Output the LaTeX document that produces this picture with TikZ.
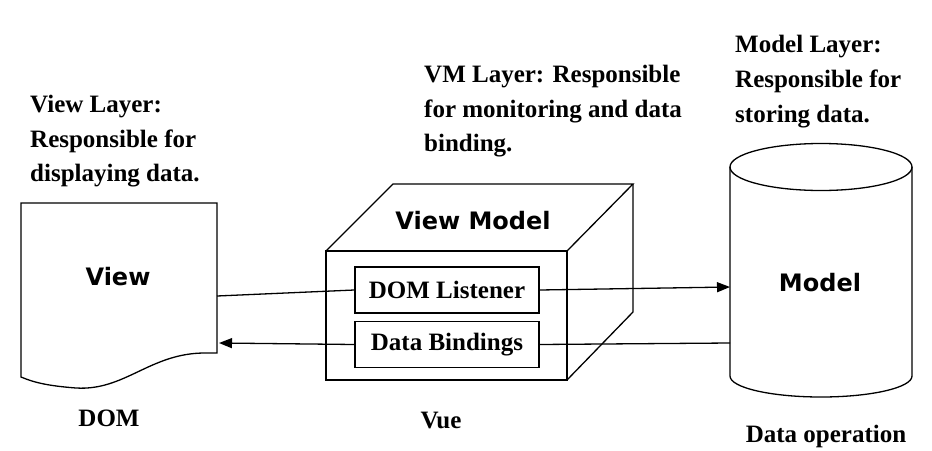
\documentclass[tikz,border=0pt]{standalone}
\usepackage{fontspec}
\setmainfont{Liberation Serif}
\newfontfamily\labelsans{DejaVu Sans}
\usetikzlibrary{arrows.meta}
\tikzset{
  shapeline/.style={draw=black, line width=1.3pt, line join=miter},
  conn/.style={draw=black, line width=1.3pt},
  arr/.style={conn, -{Triangle[length=13pt,width=10pt]}},
  serifbold/.style={font=\fontsize{25}{35}\selectfont\bfseries, inner sep=0pt},
  sansbold/.style={font=\labelsans\fontsize{24}{28}\selectfont\bfseries, inner sep=0pt},
  innerbox/.style={draw=black, line width=1.3pt, minimum width=184pt, minimum height=46pt, inner sep=0pt, font=\fontsize{25}{30}\selectfont\bfseries}
}
\begin{document}
\begin{tikzpicture}[x=1pt,y=-1pt]
\useasboundingbox[fill=white] (0,0) rectangle (932,450);

% ---------- View (document shape) ----------
\draw[shapeline] (21,203) -- (217,203) -- (217,353) -- (205,353)
  .. controls (150,353) and (125,391) .. (76,388)
  .. controls (50,386) and (35,383) .. (21,377) -- cycle;
\node[sansbold] (viewlbl) at (118,277) {View};
\node[serifbold] (dom) at (109,418) {DOM};
\coordinate (viewout) at (217,296);
\coordinate (viewin) at (219,343);

% ---------- View Model (cube) ----------
\draw[shapeline] (326,251) rectangle (567,380);
\draw[shapeline] (326,251) -- (393,184) -- (633,184) -- (567,251);
\draw[shapeline] (633,184) -- (633,312) -- (567,380);
\node[sansbold] (vmlbl) at (473,221) {View Model};
\node[innerbox] (dl) at (447,290) {DOM Listener};
\node[innerbox] (db) at (447,344.5) {Data Bindings};
\node[serifbold] (vue) at (441,420) {Vue};

% ---------- Model (cylinder) ----------
\draw[shapeline] (821,167) ellipse [x radius=91, y radius=23.5];
\draw[shapeline] (730,167) -- (730,376)
  arc[start angle=180, end angle=0, x radius=91, y radius=21] -- (912,167);
\node[sansbold] (modellbl) at (820,283) {Model};
\node[serifbold] (dataop) at (826,436) {Data operation};
\coordinate (modelin) at (730,287);
\coordinate (modelout) at (730,343);

% ---------- connectors ----------
\draw[conn] (viewout) -- (dl.west);
\draw[arr] (dl.east) -- (modelin);
\draw[conn] (modelout) -- (db.east);
\draw[arr] (db.west) -- (viewin);

% ---------- layer descriptions ----------
\node[serifbold, anchor=base west] (vl1) at (30,112) {View Layer:};
\node[serifbold, anchor=base west] (vl2) at (30,147) {Responsible for};
\node[serifbold, anchor=base west] (vl3) at (30,181) {displaying data.};

\node[serifbold, anchor=base west] (vm1) at (424,82) {VM Layer: Responsible};
\node[serifbold, anchor=base west] (vm2) at (424,117) {for monitoring and data};
\node[serifbold, anchor=base west] (vm3) at (424,151) {binding.};

\node[serifbold, anchor=base west] (ml1) at (735,52) {Model Layer:};
\node[serifbold, anchor=base west] (ml2) at (735,87) {Responsible for};
\node[serifbold, anchor=base west] (ml3) at (735,122) {storing data.};
\end{tikzpicture}
\end{document}
